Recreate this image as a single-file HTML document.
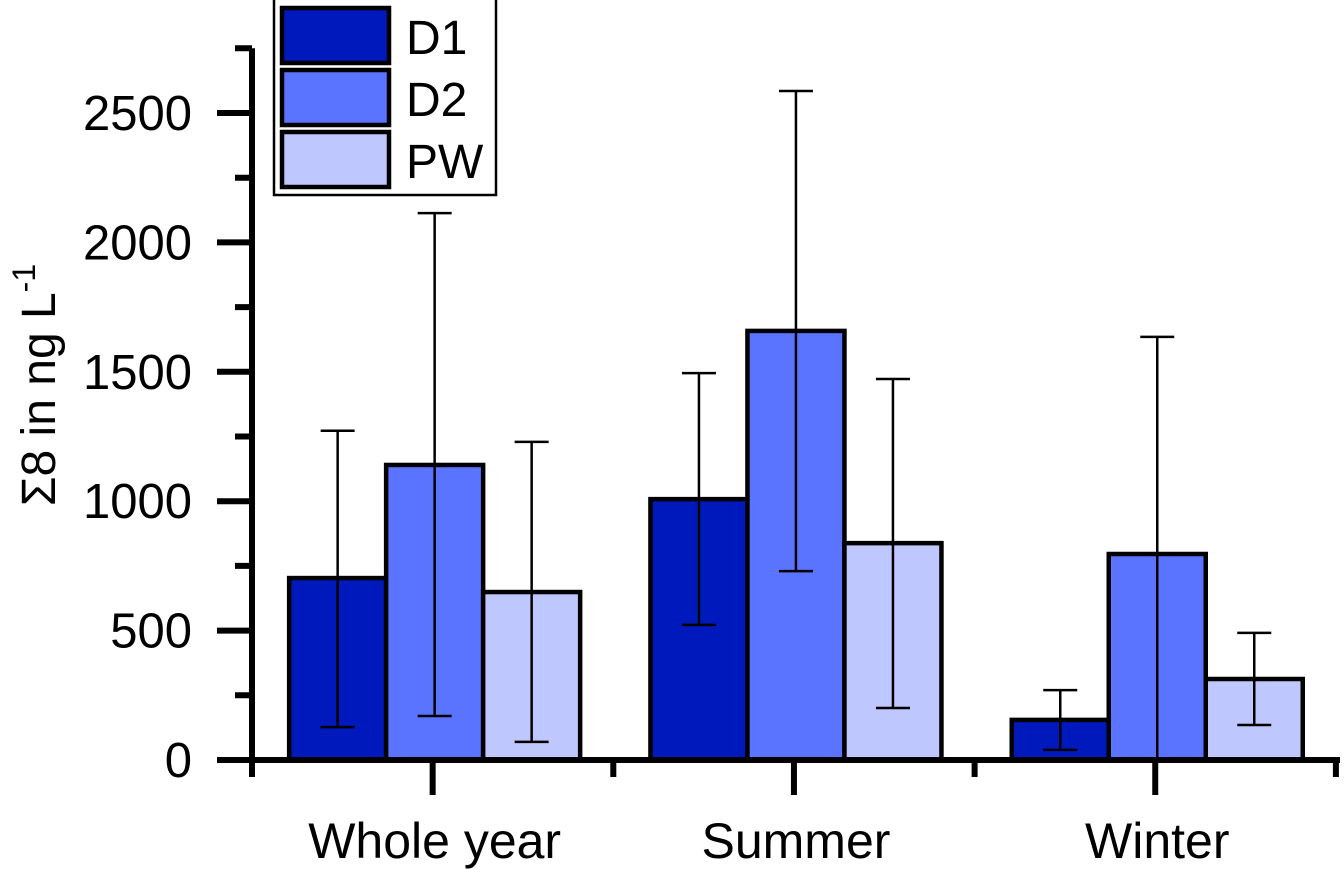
<!DOCTYPE html>
<html><head><meta charset="utf-8"><style>
body{margin:0;background:#fff}
svg{display:block;font-family:"Liberation Sans",Arial,sans-serif}
</style></head><body>
<svg id="c" width="1344" height="869"></svg>
<script>
const categories=["Whole year","Summer","Winter"];
const seriesNames=["D1","D2","PW"];
const d1=[703,1008,155];
const d2=[1140,1658,796];
const pw=[649,838,313];
const d1Lo=[127,522,39];
const d1Hi=[1272,1495,270];
const d2Lo=[170,730,0];
const d2Hi=[2113,2585,1635];
const pwLo=[70,201,135];
const pwHi=[1229,1472,491];
const yTicks=[0,500,1000,1500,2000,2500];
const colors=["#0019bd","#5a74ff","#bfc7ff"];
const svg=document.getElementById('c');
const NS="http://www.w3.org/2000/svg";
function el(t,a,p){const e=document.createElementNS(NS,t);for(const k in a)e.setAttribute(k,a[k]);(p||svg).appendChild(e);return e;}
const y0=760,pxPer=129.4/500;
function Y(v){return y0-v*pxPer;}
const gStart=252,gW=361.3;
function gCenter(i){return gStart+gW*(i+0.5);}
const barW=97;
const vals=[d1,d2,pw],los=[d1Lo,d2Lo,pwLo],his=[d1Hi,d2Hi,pwHi];
for(let s=0;s<3;s++){for(let i=0;i<categories.length;i++){
 const cx=gCenter(i)+2+(s-1)*barW;
 const r=el('rect',{x:cx-barW/2,y:Y(vals[s][i]),width:barW,height:y0-Y(vals[s][i]),fill:colors[s],stroke:'#000','stroke-width':4.5});
 
 
 const g=el('g',{stroke:'#000','stroke-width':2.5});
 
 
 el('line',{x1:cx,x2:cx,y1:Y(los[s][i]),y2:Y(his[s][i])},g);
 el('line',{x1:cx-17,x2:cx+17,y1:Y(los[s][i]),y2:Y(los[s][i])},g);
 el('line',{x1:cx-17,x2:cx+17,y1:Y(his[s][i]),y2:Y(his[s][i])},g);
}}
const ax=el('g',{stroke:'#000','stroke-width':6});


el('line',{x1:252,x2:252,y1:Y(2750),y2:763},ax);
el('line',{x1:217,x2:1340,y1:760,y2:760},ax);
for(let v=0;v<=2750;v+=250){const maj=v%500===0;el('line',{x1:maj?217:235,x2:252,y1:Y(v),y2:Y(v)},ax);}
for(let i=0;i<=3;i++){const x=gStart+gW*i;el('line',{x1:x,x2:x,y1:760,y2:777},ax);}
for(let i=0;i<3;i++){el('line',{x1:gCenter(i),x2:gCenter(i),y1:760,y2:795},ax);}
yTicks.forEach(v=>{const t=el('text',{x:192,y:Y(v)+17,'text-anchor':'end','font-size':49});t.textContent=v;
 });
categories.forEach((c,i)=>{const t=el('text',{x:gCenter(i)+2,y:858,'text-anchor':'middle','font-size':50});t.textContent=c;
 });
const yt=el('text',{transform:'translate(55,385) rotate(-90)','text-anchor':'middle','font-size':48});

yt.innerHTML='Σ8 in ng L<tspan dy="-20" font-size="32">-1</tspan>';
const lg=el('g',{});

el('rect',{x:274,y:-2,width:222,height:197,fill:'#fff',stroke:'#000','stroke-width':2.5},lg);
seriesNames.forEach((n,s)=>{
 const r=el('rect',{x:282,y:8+s*62,width:107,height:55,fill:colors[s],stroke:'#000','stroke-width':4.5},lg);
 
 const t=el('text',{x:406,y:54+s*62,'font-size':48},lg);t.textContent=n;
 
});
</script>
</body></html>
